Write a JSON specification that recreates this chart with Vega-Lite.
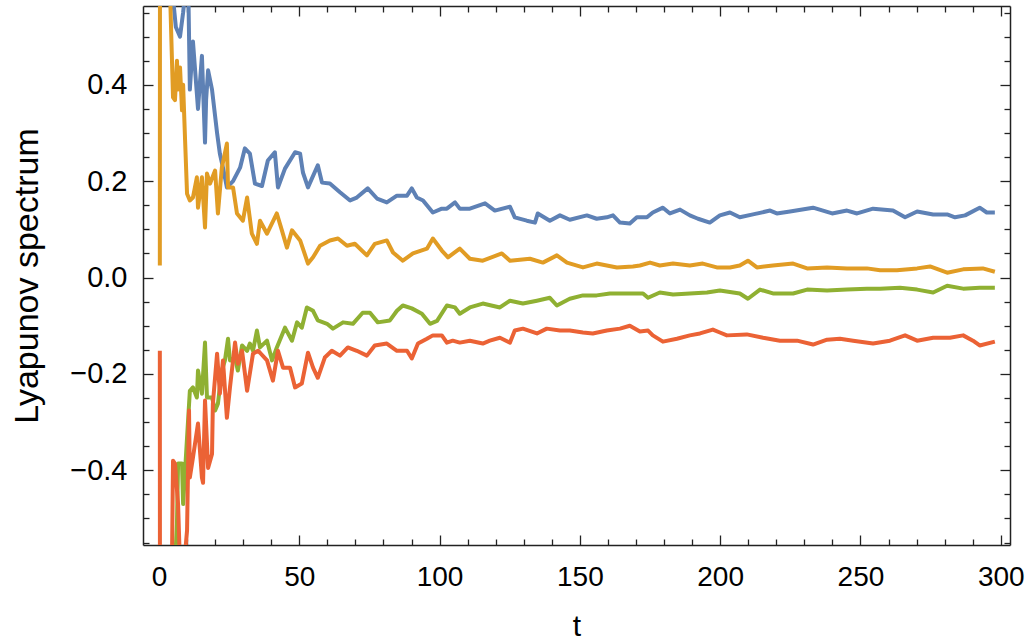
{
  "$schema": "https://vega.github.io/schema/vega-lite/v6.json",
  "width": 867,
  "height": 539,
  "autosize": {"type": "none"},
  "padding": {"left": 143, "top": 6, "right": 15, "bottom": 95},
  "config": {"view": {"stroke": null}, "font": "Liberation Sans"},
  "datasets": {
    "lyap": [
      {"s":"λ1","t":0.4,"v":3.0},{"s":"λ1","t":2,"v":2.0},{"s":"λ1","t":4,"v":1.0},{"s":"λ1","t":5.0,"v":0.58},{"s":"λ1","t":6.0,"v":0.52},{"s":"λ1","t":7.5,"v":0.5},{"s":"λ1","t":8.6,"v":0.55},{"s":"λ1","t":9.5,"v":0.6},{"s":"λ1","t":10.5,"v":0.58},{"s":"λ1","t":11.0,"v":0.39},{"s":"λ1","t":12.1,"v":0.49},{"s":"λ1","t":13.9,"v":0.35},{"s":"λ1","t":15.3,"v":0.46},{"s":"λ1","t":16.4,"v":0.28},{"s":"λ1","t":16.8,"v":0.37},{"s":"λ1","t":17.5,"v":0.43},{"s":"λ1","t":18.9,"v":0.39},{"s":"λ1","t":20.7,"v":0.3},{"s":"λ1","t":21.7,"v":0.257},{"s":"λ1","t":22.8,"v":0.228},{"s":"λ1","t":24.2,"v":0.187},{"s":"λ1","t":26.4,"v":0.2},{"s":"λ1","t":28.9,"v":0.228},{"s":"λ1","t":30.6,"v":0.268},{"s":"λ1","t":32.4,"v":0.257},{"s":"λ1","t":34.2,"v":0.195},{"s":"λ1","t":36.7,"v":0.19},{"s":"λ1","t":38.8,"v":0.243},{"s":"λ1","t":41.3,"v":0.26},{"s":"λ1","t":42.4,"v":0.187},{"s":"λ1","t":44.9,"v":0.226},{"s":"λ1","t":48.5,"v":0.26},{"s":"λ1","t":50.3,"v":0.257},{"s":"λ1","t":51.3,"v":0.218},{"s":"λ1","t":53.1,"v":0.187},{"s":"λ1","t":56.6,"v":0.233},{"s":"λ1","t":58.1,"v":0.197},{"s":"λ1","t":60.9,"v":0.195},{"s":"λ1","t":64.5,"v":0.177},{"s":"λ1","t":68.1,"v":0.16},{"s":"λ1","t":70.5,"v":0.166},{"s":"λ1","t":74.4,"v":0.185},{"s":"λ1","t":77.7,"v":0.164},{"s":"λ1","t":81.2,"v":0.156},{"s":"λ1","t":84.8,"v":0.17},{"s":"λ1","t":88.4,"v":0.17},{"s":"λ1","t":90.1,"v":0.185},{"s":"λ1","t":91.9,"v":0.166},{"s":"λ1","t":94.1,"v":0.16},{"s":"λ1","t":97.6,"v":0.135},{"s":"λ1","t":100.8,"v":0.143},{"s":"λ1","t":102.6,"v":0.143},{"s":"λ1","t":105.5,"v":0.156},{"s":"λ1","t":107.2,"v":0.143},{"s":"λ1","t":110.8,"v":0.143},{"s":"λ1","t":116.2,"v":0.154},{"s":"λ1","t":119.7,"v":0.139},{"s":"λ1","t":125.1,"v":0.147},{"s":"λ1","t":126.8,"v":0.125},{"s":"λ1","t":131.1,"v":0.118},{"s":"λ1","t":134.0,"v":0.114},{"s":"λ1","t":135.0,"v":0.133},{"s":"λ1","t":139.3,"v":0.118},{"s":"λ1","t":142.9,"v":0.129},{"s":"λ1","t":146.4,"v":0.12},{"s":"λ1","t":152.5,"v":0.129},{"s":"λ1","t":156.0,"v":0.122},{"s":"λ1","t":159.6,"v":0.125},{"s":"λ1","t":161.8,"v":0.129},{"s":"λ1","t":164.3,"v":0.114},{"s":"λ1","t":167.8,"v":0.112},{"s":"λ1","t":170.3,"v":0.125},{"s":"λ1","t":173.9,"v":0.125},{"s":"λ1","t":176.0,"v":0.135},{"s":"λ1","t":179.6,"v":0.145},{"s":"λ1","t":182.1,"v":0.133},{"s":"λ1","t":185.7,"v":0.141},{"s":"λ1","t":189.2,"v":0.129},{"s":"λ1","t":192.1,"v":0.122},{"s":"λ1","t":196.3,"v":0.114},{"s":"λ1","t":199.9,"v":0.129},{"s":"λ1","t":203.5,"v":0.135},{"s":"λ1","t":207.0,"v":0.125},{"s":"λ1","t":211.7,"v":0.131},{"s":"λ1","t":217.8,"v":0.139},{"s":"λ1","t":220.2,"v":0.133},{"s":"λ1","t":224.9,"v":0.137},{"s":"λ1","t":233.1,"v":0.145},{"s":"λ1","t":239.9,"v":0.133},{"s":"λ1","t":245.2,"v":0.139},{"s":"λ1","t":248.8,"v":0.133},{"s":"λ1","t":254.5,"v":0.143},{"s":"λ1","t":261.6,"v":0.139},{"s":"λ1","t":265.9,"v":0.125},{"s":"λ1","t":270.2,"v":0.137},{"s":"λ1","t":275.9,"v":0.131},{"s":"λ1","t":280.9,"v":0.131},{"s":"λ1","t":283.7,"v":0.125},{"s":"λ1","t":287.3,"v":0.129},{"s":"λ1","t":292.5,"v":0.145},{"s":"λ1","t":295.0,"v":0.135},{"s":"λ1","t":297.9,"v":0.135},
      {"s":"λ2","t":0.3,"v":0.025},{"s":"λ2","t":0.5,"v":2.5},{"s":"λ2","t":3.0,"v":1.2},{"s":"λ2","t":3.9,"v":0.6},{"s":"λ2","t":5.0,"v":0.374},{"s":"λ2","t":5.7,"v":0.368},{"s":"λ2","t":6.4,"v":0.45},{"s":"λ2","t":6.8,"v":0.39},{"s":"λ2","t":7.5,"v":0.436},{"s":"λ2","t":8.2,"v":0.347},{"s":"λ2","t":8.6,"v":0.4},{"s":"λ2","t":9.3,"v":0.285},{"s":"λ2","t":10.0,"v":0.174},{"s":"λ2","t":11.0,"v":0.16},{"s":"λ2","t":12.1,"v":0.166},{"s":"λ2","t":13.5,"v":0.208},{"s":"λ2","t":13.9,"v":0.145},{"s":"λ2","t":15.3,"v":0.208},{"s":"λ2","t":16.4,"v":0.104},{"s":"λ2","t":17.1,"v":0.216},{"s":"λ2","t":18.2,"v":0.195},{"s":"λ2","t":20.0,"v":0.222},{"s":"λ2","t":21.0,"v":0.133},{"s":"λ2","t":22.4,"v":0.228},{"s":"λ2","t":24.2,"v":0.278},{"s":"λ2","t":24.6,"v":0.187},{"s":"λ2","t":26.4,"v":0.187},{"s":"λ2","t":27.8,"v":0.133},{"s":"λ2","t":29.9,"v":0.118},{"s":"λ2","t":31.4,"v":0.166},{"s":"λ2","t":33.1,"v":0.091},{"s":"λ2","t":34.9,"v":0.07},{"s":"λ2","t":36.0,"v":0.118},{"s":"λ2","t":38.5,"v":0.091},{"s":"λ2","t":42.0,"v":0.133},{"s":"λ2","t":43.8,"v":0.098},{"s":"λ2","t":45.6,"v":0.062},{"s":"λ2","t":47.4,"v":0.098},{"s":"λ2","t":50.3,"v":0.077},{"s":"λ2","t":53.1,"v":0.029},{"s":"λ2","t":54.9,"v":0.042},{"s":"λ2","t":57.4,"v":0.066},{"s":"λ2","t":60.9,"v":0.077},{"s":"λ2","t":63.8,"v":0.081},{"s":"λ2","t":67.0,"v":0.066},{"s":"λ2","t":69.8,"v":0.07},{"s":"λ2","t":74.1,"v":0.046},{"s":"λ2","t":76.9,"v":0.07},{"s":"λ2","t":81.2,"v":0.077},{"s":"λ2","t":83.4,"v":0.052},{"s":"λ2","t":86.9,"v":0.035},{"s":"λ2","t":90.5,"v":0.05},{"s":"λ2","t":95.5,"v":0.06},{"s":"λ2","t":97.6,"v":0.081},{"s":"λ2","t":100.8,"v":0.056},{"s":"λ2","t":103.0,"v":0.042},{"s":"λ2","t":107.2,"v":0.06},{"s":"λ2","t":110.8,"v":0.039},{"s":"λ2","t":115.4,"v":0.035},{"s":"λ2","t":122.2,"v":0.05},{"s":"λ2","t":125.1,"v":0.035},{"s":"λ2","t":132.2,"v":0.039},{"s":"λ2","t":136.8,"v":0.031},{"s":"λ2","t":141.8,"v":0.046},{"s":"λ2","t":145.4,"v":0.031},{"s":"λ2","t":151.1,"v":0.021},{"s":"λ2","t":156.0,"v":0.029},{"s":"λ2","t":163.2,"v":0.021},{"s":"λ2","t":168.9,"v":0.023},{"s":"λ2","t":171.4,"v":0.025},{"s":"λ2","t":175.0,"v":0.031},{"s":"λ2","t":178.5,"v":0.025},{"s":"λ2","t":183.2,"v":0.029},{"s":"λ2","t":189.2,"v":0.025},{"s":"λ2","t":193.8,"v":0.029},{"s":"λ2","t":198.8,"v":0.021},{"s":"λ2","t":203.5,"v":0.021},{"s":"λ2","t":207.0,"v":0.025},{"s":"λ2","t":209.9,"v":0.035},{"s":"λ2","t":213.1,"v":0.021},{"s":"λ2","t":218.8,"v":0.025},{"s":"λ2","t":226.0,"v":0.029},{"s":"λ2","t":231.0,"v":0.019},{"s":"λ2","t":238.1,"v":0.021},{"s":"λ2","t":245.2,"v":0.019},{"s":"λ2","t":252.3,"v":0.019},{"s":"λ2","t":257.0,"v":0.015},{"s":"λ2","t":263.0,"v":0.015},{"s":"λ2","t":270.2,"v":0.019},{"s":"λ2","t":274.8,"v":0.023},{"s":"λ2","t":280.9,"v":0.01},{"s":"λ2","t":286.6,"v":0.017},{"s":"λ2","t":293.6,"v":0.019},{"s":"λ2","t":297.9,"v":0.012},
      {"s":"λ3","t":0.4,"v":-3.0},{"s":"λ3","t":4.0,"v":-1.2},{"s":"λ3","t":5.7,"v":-0.6},{"s":"λ3","t":6.4,"v":-0.511},{"s":"λ3","t":6.8,"v":-0.386},{"s":"λ3","t":8.2,"v":-0.386},{"s":"λ3","t":8.6,"v":-0.47},{"s":"λ3","t":10.0,"v":-0.332},{"s":"λ3","t":11.0,"v":-0.235},{"s":"λ3","t":12.1,"v":-0.228},{"s":"λ3","t":13.5,"v":-0.249},{"s":"λ3","t":13.9,"v":-0.193},{"s":"λ3","t":15.3,"v":-0.241},{"s":"λ3","t":16.4,"v":-0.135},{"s":"λ3","t":17.1,"v":-0.249},{"s":"λ3","t":18.9,"v":-0.249},{"s":"λ3","t":20.0,"v":-0.276},{"s":"λ3","t":21.0,"v":-0.262},{"s":"λ3","t":22.4,"v":-0.193},{"s":"λ3","t":23.5,"v":-0.172},{"s":"λ3","t":24.6,"v":-0.127},{"s":"λ3","t":25.3,"v":-0.172},{"s":"λ3","t":27.1,"v":-0.166},{"s":"λ3","t":28.1,"v":-0.193},{"s":"λ3","t":29.6,"v":-0.141},{"s":"λ3","t":31.4,"v":-0.152},{"s":"λ3","t":32.4,"v":-0.137},{"s":"λ3","t":33.5,"v":-0.152},{"s":"λ3","t":34.9,"v":-0.11},{"s":"λ3","t":36.0,"v":-0.145},{"s":"λ3","t":38.5,"v":-0.131},{"s":"λ3","t":40.3,"v":-0.172},{"s":"λ3","t":42.0,"v":-0.145},{"s":"λ3","t":44.9,"v":-0.104},{"s":"λ3","t":47.4,"v":-0.131},{"s":"λ3","t":49.2,"v":-0.093},{"s":"λ3","t":50.9,"v":-0.104},{"s":"λ3","t":52.7,"v":-0.062},{"s":"λ3","t":54.9,"v":-0.069},{"s":"λ3","t":56.6,"v":-0.089},{"s":"λ3","t":59.9,"v":-0.096},{"s":"λ3","t":62.0,"v":-0.106},{"s":"λ3","t":65.6,"v":-0.093},{"s":"λ3","t":69.1,"v":-0.096},{"s":"λ3","t":72.6,"v":-0.073},{"s":"λ3","t":75.2,"v":-0.073},{"s":"λ3","t":78.0,"v":-0.093},{"s":"λ3","t":82.3,"v":-0.089},{"s":"λ3","t":84.8,"v":-0.069},{"s":"λ3","t":86.9,"v":-0.058},{"s":"λ3","t":90.1,"v":-0.064},{"s":"λ3","t":93.7,"v":-0.075},{"s":"λ3","t":96.6,"v":-0.096},{"s":"λ3","t":99.1,"v":-0.09},{"s":"λ3","t":102.6,"v":-0.058},{"s":"λ3","t":105.5,"v":-0.062},{"s":"λ3","t":107.2,"v":-0.075},{"s":"λ3","t":110.8,"v":-0.062},{"s":"λ3","t":115.4,"v":-0.054},{"s":"λ3","t":121.5,"v":-0.062},{"s":"λ3","t":125.1,"v":-0.048},{"s":"λ3","t":129.7,"v":-0.054},{"s":"λ3","t":134.7,"v":-0.048},{"s":"λ3","t":139.3,"v":-0.042},{"s":"λ3","t":141.8,"v":-0.058},{"s":"λ3","t":146.4,"v":-0.044},{"s":"λ3","t":151.1,"v":-0.037},{"s":"λ3","t":156.0,"v":-0.037},{"s":"λ3","t":160.7,"v":-0.033},{"s":"λ3","t":166.8,"v":-0.033},{"s":"λ3","t":172.5,"v":-0.033},{"s":"λ3","t":174.3,"v":-0.042},{"s":"λ3","t":178.5,"v":-0.031},{"s":"λ3","t":183.2,"v":-0.035},{"s":"λ3","t":189.2,"v":-0.033},{"s":"λ3","t":195.3,"v":-0.031},{"s":"λ3","t":199.9,"v":-0.027},{"s":"λ3","t":207.0,"v":-0.033},{"s":"λ3","t":209.9,"v":-0.044},{"s":"λ3","t":214.2,"v":-0.025},{"s":"λ3","t":218.8,"v":-0.033},{"s":"λ3","t":226.0,"v":-0.033},{"s":"λ3","t":231.0,"v":-0.025},{"s":"λ3","t":238.1,"v":-0.027},{"s":"λ3","t":245.2,"v":-0.025},{"s":"λ3","t":252.3,"v":-0.023},{"s":"λ3","t":257.0,"v":-0.023},{"s":"λ3","t":264.1,"v":-0.021},{"s":"λ3","t":270.2,"v":-0.025},{"s":"λ3","t":275.9,"v":-0.031},{"s":"λ3","t":280.9,"v":-0.017},{"s":"λ3","t":286.6,"v":-0.023},{"s":"λ3","t":292.5,"v":-0.021},{"s":"λ3","t":297.9,"v":-0.021},
      {"s":"λ4","t":0.3,"v":-0.152},{"s":"λ4","t":0.5,"v":-3.0},{"s":"λ4","t":3.5,"v":-1.2},{"s":"λ4","t":4.6,"v":-0.6},{"s":"λ4","t":5.0,"v":-0.38},{"s":"λ4","t":5.7,"v":-0.386},{"s":"λ4","t":6.8,"v":-0.47},{"s":"λ4","t":7.5,"v":-0.6},{"s":"λ4","t":8.6,"v":-0.62},{"s":"λ4","t":10.0,"v":-0.525},{"s":"λ4","t":10.7,"v":-0.276},{"s":"λ4","t":11.0,"v":-0.415},{"s":"λ4","t":12.1,"v":-0.374},{"s":"λ4","t":13.9,"v":-0.303},{"s":"λ4","t":15.3,"v":-0.415},{"s":"λ4","t":15.7,"v":-0.426},{"s":"λ4","t":16.4,"v":-0.255},{"s":"λ4","t":17.5,"v":-0.395},{"s":"λ4","t":18.9,"v":-0.366},{"s":"λ4","t":19.2,"v":-0.262},{"s":"λ4","t":20.7,"v":-0.158},{"s":"λ4","t":21.7,"v":-0.241},{"s":"λ4","t":22.8,"v":-0.172},{"s":"λ4","t":24.2,"v":-0.291},{"s":"λ4","t":25.3,"v":-0.228},{"s":"λ4","t":27.1,"v":-0.135},{"s":"λ4","t":28.1,"v":-0.179},{"s":"λ4","t":29.6,"v":-0.152},{"s":"λ4","t":31.4,"v":-0.235},{"s":"λ4","t":33.5,"v":-0.158},{"s":"λ4","t":35.3,"v":-0.152},{"s":"λ4","t":36.0,"v":-0.156},{"s":"λ4","t":38.5,"v":-0.172},{"s":"λ4","t":40.6,"v":-0.214},{"s":"λ4","t":42.4,"v":-0.152},{"s":"λ4","t":44.2,"v":-0.187},{"s":"λ4","t":46.7,"v":-0.187},{"s":"λ4","t":48.5,"v":-0.228},{"s":"λ4","t":50.9,"v":-0.22},{"s":"λ4","t":53.1,"v":-0.156},{"s":"λ4","t":54.9,"v":-0.187},{"s":"λ4","t":56.6,"v":-0.208},{"s":"λ4","t":59.1,"v":-0.166},{"s":"λ4","t":61.6,"v":-0.152},{"s":"λ4","t":64.5,"v":-0.162},{"s":"λ4","t":67.3,"v":-0.145},{"s":"λ4","t":70.5,"v":-0.152},{"s":"λ4","t":74.1,"v":-0.162},{"s":"λ4","t":76.9,"v":-0.141},{"s":"λ4","t":81.2,"v":-0.137},{"s":"λ4","t":84.8,"v":-0.152},{"s":"λ4","t":88.4,"v":-0.152},{"s":"λ4","t":90.1,"v":-0.168},{"s":"λ4","t":92.3,"v":-0.137},{"s":"λ4","t":95.5,"v":-0.127},{"s":"λ4","t":97.6,"v":-0.12},{"s":"λ4","t":100.8,"v":-0.12},{"s":"λ4","t":102.6,"v":-0.135},{"s":"λ4","t":104.7,"v":-0.131},{"s":"λ4","t":107.2,"v":-0.135},{"s":"λ4","t":110.8,"v":-0.131},{"s":"λ4","t":115.4,"v":-0.137},{"s":"λ4","t":117.9,"v":-0.131},{"s":"λ4","t":121.5,"v":-0.125},{"s":"λ4","t":125.1,"v":-0.135},{"s":"λ4","t":126.8,"v":-0.11},{"s":"λ4","t":129.7,"v":-0.106},{"s":"λ4","t":134.7,"v":-0.116},{"s":"λ4","t":138.2,"v":-0.106},{"s":"λ4","t":142.9,"v":-0.11},{"s":"λ4","t":146.4,"v":-0.11},{"s":"λ4","t":151.1,"v":-0.114},{"s":"λ4","t":154.6,"v":-0.116},{"s":"λ4","t":159.6,"v":-0.11},{"s":"λ4","t":164.3,"v":-0.106},{"s":"λ4","t":167.8,"v":-0.1},{"s":"λ4","t":171.4,"v":-0.112},{"s":"λ4","t":174.3,"v":-0.11},{"s":"λ4","t":176.0,"v":-0.12},{"s":"λ4","t":179.6,"v":-0.133},{"s":"λ4","t":184.6,"v":-0.127},{"s":"λ4","t":189.2,"v":-0.12},{"s":"λ4","t":192.8,"v":-0.116},{"s":"λ4","t":197.4,"v":-0.108},{"s":"λ4","t":199.9,"v":-0.114},{"s":"λ4","t":202.4,"v":-0.12},{"s":"λ4","t":209.5,"v":-0.118},{"s":"λ4","t":215.3,"v":-0.125},{"s":"λ4","t":221.3,"v":-0.131},{"s":"λ4","t":227.4,"v":-0.131},{"s":"λ4","t":233.1,"v":-0.139},{"s":"λ4","t":238.1,"v":-0.129},{"s":"λ4","t":242.7,"v":-0.127},{"s":"λ4","t":247.4,"v":-0.131},{"s":"λ4","t":254.5,"v":-0.137},{"s":"λ4","t":260.5,"v":-0.131},{"s":"λ4","t":265.9,"v":-0.12},{"s":"λ4","t":270.2,"v":-0.131},{"s":"λ4","t":275.9,"v":-0.125},{"s":"λ4","t":281.9,"v":-0.125},{"s":"λ4","t":286.6,"v":-0.12},{"s":"λ4","t":290.1,"v":-0.131},{"s":"λ4","t":292.5,"v":-0.141},{"s":"λ4","t":297.9,"v":-0.133}
    ]
  },
  "resolve": {"axis": {"x": "independent", "y": "independent"}},
  "layer": [
    {
      "data": {"name": "lyap"},
      "mark": {"type": "line", "clip": true, "strokeWidth": 4, "strokeJoin": "round"},
      "encoding": {
        "x": {
          "field": "t", "type": "quantitative",
          "scale": {"domain": [-5.7, 303.3], "nice": false, "zero": false},
          "axis": {
            "orient": "bottom", "title": "t", "grid": false,
            "values": [0,10,20,30,40,50,60,70,80,90,100,110,120,130,140,150,160,170,180,190,200,210,220,230,240,250,260,270,280,290,300],
            "labelExpr": "datum.value % 50 === 0 ? datum.label : ''",
            "labelOverlap": false, "labelFlush": false,
            "tickSize": {"condition": {"test": "datum.value % 50 === 0", "value": -10}, "value": -6},
            "tickColor": "#222", "tickWidth": 1.3,
            "domainColor": "#222", "domainWidth": 1.5,
            "labelPadding": 28, "labelFontSize": 28, "labelColor": "#000", "labelFont": "Liberation Sans",
            "titleFontSize": 30, "titleFontWeight": "normal", "titleColor": "#000", "titleFont": "Liberation Sans", "titlePadding": 16
          }
        },
        "y": {
          "field": "v", "type": "quantitative",
          "scale": {"domain": [-0.555, 0.5635], "nice": false, "zero": false},
          "axis": {
            "orient": "left", "title": "Lyapunov spectrum", "grid": false,
            "values": [-0.55,-0.5,-0.45,-0.4,-0.35,-0.3,-0.25,-0.2,-0.15,-0.1,-0.05,0,0.05,0.1,0.15,0.2,0.25,0.3,0.35,0.4,0.45,0.5,0.55],
            "labelExpr": "abs(round(datum.value*100)) % 20 === 0 ? format(datum.value, '.1f') : ''",
            "labelOverlap": false, "labelFlush": false,
            "tickSize": {"condition": {"test": "abs(round(datum.value*100)) % 20 === 0", "value": -10}, "value": -6},
            "tickColor": "#222", "tickWidth": 1.3,
            "domainColor": "#222", "domainWidth": 1.5,
            "labelPadding": 26, "labelFontSize": 29, "labelColor": "#000", "labelFont": "Liberation Sans",
            "titleFontSize": 34, "titleFontWeight": "normal", "titleColor": "#000", "titleFont": "Liberation Sans", "titlePadding": 25
          }
        },
        "color": {
          "field": "s", "type": "nominal", "legend": null,
          "scale": {"domain": ["λ1","λ2","λ3","λ4"], "range": ["#5E81B5","#E19C24","#8FB032","#EB6235"]}
        }
      }
    },
    {
      "mark": {"type": "rule", "color": "#8a8a8a", "strokeWidth": 1.6, "clip": true},
      "encoding": {
        "y": {
          "datum": 0, "type": "quantitative",
          "scale": {"domain": [-0.555, 0.5635], "nice": false, "zero": false},
          "axis": {
            "orient": "right", "title": null, "labels": false, "grid": false,
            "values": [-0.55,-0.5,-0.45,-0.4,-0.35,-0.3,-0.25,-0.2,-0.15,-0.1,-0.05,0,0.05,0.1,0.15,0.2,0.25,0.3,0.35,0.4,0.45,0.5,0.55],
            "tickSize": {"condition": {"test": "abs(round(datum.value*100)) % 20 === 0", "value": -10}, "value": -6},
            "tickColor": "#222", "tickWidth": 1.3, "domainColor": "#222", "domainWidth": 1.5
          }
        },
        "x": {
          "datum": -5.7, "type": "quantitative",
          "scale": {"domain": [-5.7, 303.3], "nice": false, "zero": false},
          "axis": {
            "orient": "top", "title": null, "labels": false, "grid": false,
            "values": [0,10,20,30,40,50,60,70,80,90,100,110,120,130,140,150,160,170,180,190,200,210,220,230,240,250,260,270,280,290,300],
            "tickSize": {"condition": {"test": "datum.value % 50 === 0", "value": -10}, "value": -6},
            "tickColor": "#222", "tickWidth": 1.3, "domainColor": "#222", "domainWidth": 1.5
          }
        },
        "x2": {"datum": 303.3}
      }
    }
  ]
}
